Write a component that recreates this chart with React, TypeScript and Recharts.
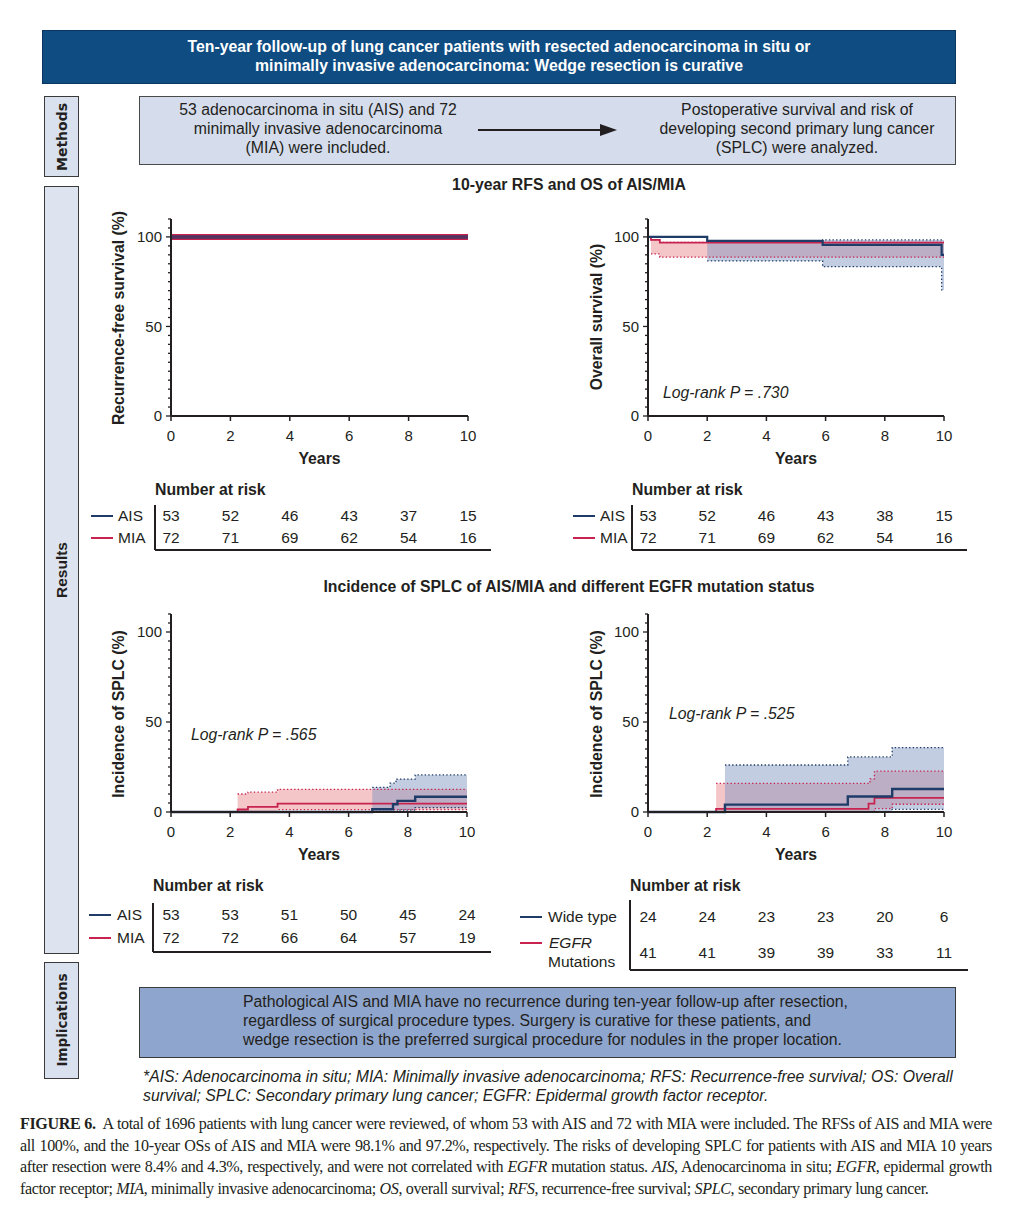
import React from "react";
import { ComposedChart, Line, Area, XAxis, YAxis } from "recharts";

type Step = [number, number][];

const NAVY = "#1f3b68";
const RED = "#c8234f";
const NAVY_FILL = "#7f96c2";
const RED_FILL = "#e8888c";
const INK = "#231f20";
const SANS = '"Liberation Sans", Arial, Helvetica, sans-serif';
const WIDE = '"DejaVu Sans", Verdana, sans-serif';
const SERIF = '"Liberation Serif", "Times New Roman", serif';

const YEAR_TICKS = [0, 2, 4, 6, 8, 10];
const Y_TICKS = [0, 5, 10, 15, 20, 25, 30, 35, 40, 45, 50, 55, 60, 65, 70, 75, 80, 85, 90, 95, 100, 105, 110];

// RFS (%), [year, value]
const rfsAis: Step = [[0, 100], [10, 100]];
const rfsMia: Step = [[0, 100], [10, 100]];

// OS (%)
const osAis: Step = [[0, 100], [2, 97.8], [5.9, 95.5], [9.92, 90.0], [10, 90.0]];
const osAisLow: Step = [[2, 86.6], [5.9, 83.4], [9.92, 70.4], [10, 70.4]];
const osAisHigh: Step = [[2, 97.9], [5.9, 98.3], [10, 98.3]];
const osMia: Step = [[0, 100], [0.1, 98.3], [0.4, 96.8], [10, 96.8]];
const osMiaLow: Step = [[0.1, 90.5], [0.4, 88.7], [10, 88.7]];
const osMiaHigh: Step = [[0.1, 98.4], [0.4, 96.9], [10, 96.9]];

// SPLC incidence, AIS vs MIA (%)
const splcAis: Step = [[0, 0], [6.8, 1.5], [7.5, 4.3], [7.65, 6.2], [8.25, 8.5], [10, 8.5]];
const splcAisLow: Step = [[6.8, 0], [7.65, 1.0], [8.25, 2.4], [10, 2.4]];
const splcAisHigh: Step = [[6.8, 13.7], [7.4, 16.0], [7.6, 18.3], [8.25, 20.6], [10, 20.6]];
const splcMia: Step = [[0, 0], [2.25, 1.4], [2.6, 2.9], [3.6, 4.6], [10, 4.6]];
const splcMiaLow: Step = [[2.25, 0], [3.6, 1.3], [10, 1.3]];
const splcMiaHigh: Step = [[2.25, 10.0], [2.6, 11.0], [3.6, 12.6], [10, 12.6]];

// SPLC incidence, wild type vs EGFR mutations (%)
const egfrWild: Step = [[0, 0], [2.6, 4.1], [6.75, 8.6], [8.25, 12.8], [10, 12.8]];
const egfrWildLow: Step = [[2.6, 0], [8.25, 1.5], [10, 1.5]];
const egfrWildHigh: Step = [[2.6, 26.1], [6.75, 30.6], [8.25, 35.8], [10, 35.8]];
const egfrMut: Step = [[0, 0], [2.3, 1.7], [7.45, 4.7], [7.65, 7.9], [10, 7.9]];
const egfrMutLow: Step = [[2.3, 0], [7.65, 1.9], [8.25, 4.3], [10, 4.3]];
const egfrMutHigh: Step = [[2.3, 15.9], [7.5, 18.4], [7.65, 22.7], [10, 22.7]];

// number at risk at years 0,2,4,6,8,10
const riskRfsAis = [53, 52, 46, 43, 37, 15];
const riskRfsMia = [72, 71, 69, 62, 54, 16];
const riskOsAis = [53, 52, 46, 43, 38, 15];
const riskOsMia = [72, 71, 69, 62, 54, 16];
const riskSplcAis = [53, 53, 51, 50, 45, 24];
const riskSplcMia = [72, 72, 66, 64, 57, 19];
const riskWild = [24, 24, 23, 23, 20, 6];
const riskMut = [41, 41, 39, 39, 33, 11];

function stepAt(s: Step, t: number): number | null {
  if (t < s[0][0]) return null;
  let v = s[0][1];
  for (const [x, y] of s) if (x <= t) v = y;
  return v;
}

function buildRows(series: Record<string, Step>) {
  const ts = [...new Set(Object.values(series).flatMap((s) => s.map((p) => p[0])))].sort((a, b) => a - b);
  return ts.map((t) => {
    const row: any = { t };
    for (const k in series) row[k] = stepAt(series[k], t);
    return row;
  });
}

interface Group {
  key: string;
  color: string;
  fill?: string;
  est: Step;
  low?: Step;
  high?: Step;
  width: number;
  opacity?: number;
}

function YTick(props: any) {
  const { y, payload, axisX } = props;
  const v = payload.value;
  const major = v === 0 || v === 50 || v === 100;
  return (
    <g>
      <line x1={axisX - (major ? 5 : 3)} x2={axisX} y1={y} y2={y} stroke={INK} strokeWidth={1.3} />
      {major && (
        <text x={axisX - 9} y={y} dy="0.36em" textAnchor="end" fontSize={15} fill={INK} fontFamily={SANS}>
          {v}
        </text>
      )}
    </g>
  );
}

function KMChart({ plotLeft, plotTop, plotW, plotH, groups }: { plotLeft: number; plotTop: number; plotW: number; plotH: number; groups: Group[] }) {
  const series: Record<string, Step> = {};
  groups.forEach((g) => {
    series[g.key] = g.est;
    if (g.low) series[g.key + "Low"] = g.low;
    if (g.high) series[g.key + "High"] = g.high;
  });
  const rows = buildRows(series);
  const ML = 11, YW = 60, MT = 14, MR = 22, XH = 48, MB = 12;
  const axisX = ML + YW;
  const banded = groups.filter((g) => g.low && g.high);
  return (
    <div style={{ position: "absolute", left: plotLeft - axisX, top: plotTop - MT }}>
      <ComposedChart
        width={axisX + plotW + MR}
        height={MT + plotH + XH + MB}
        data={rows}
        margin={{ top: MT, right: MR, left: ML, bottom: MB }}
        style={{ fontFamily: SANS }}
      >
        <XAxis
          dataKey="t"
          type="number"
          domain={[0, 10]}
          ticks={YEAR_TICKS}
          interval={0}
          height={XH}
          tickSize={5}
          tickMargin={9}
          stroke={INK}
          axisLine={{ stroke: INK, strokeWidth: 2 }}
          tickLine={{ stroke: INK, strokeWidth: 1.5 }}
          tick={{ fontSize: 15, fill: INK }}
          label={{ value: "Years", position: "insideBottom", offset: 0, fontSize: 15.8, fontWeight: 700, fill: INK }}
        />
        <YAxis
          type="number"
          domain={[0, 110]}
          ticks={Y_TICKS}
          interval={0}
          width={YW}
          axisLine={{ stroke: INK, strokeWidth: 2 }}
          tickLine={false}
          tick={<YTick axisX={axisX} />}
        />
        {banded.map((g) => (
          <Area
            key={g.key + "band"}
            type="stepAfter"
            dataKey={(r: any) => (r[g.key + "Low"] == null ? null : [r[g.key + "Low"], r[g.key + "High"]])}
            stroke="none"
            fill={g.fill}
            fillOpacity={0.48}
            dot={false}
            activeDot={false}
            isAnimationActive={false}
          />
        ))}
        {banded.flatMap((g) =>
          ["Low", "High"].map((s) => (
            <Line
              key={g.key + s}
              type="stepAfter"
              dataKey={g.key + s}
              stroke={g.color}
              strokeWidth={1.3}
              strokeDasharray="1.4 2.2"
              dot={false}
              activeDot={false}
              isAnimationActive={false}
            />
          ))
        )}
        {groups.map((g) => (
          <Line
            key={g.key}
            type="stepAfter"
            dataKey={g.key}
            stroke={g.color}
            strokeWidth={g.width}
            strokeOpacity={g.opacity ?? 1}
            dot={false}
            activeDot={false}
            isAnimationActive={false}
          />
        ))}
      </ComposedChart>
    </div>
  );
}

function Txt({ x, y, size = 15.8, bold, italic, anchor = "start", color = INK, family = SANS, children }: any) {
  const tx = anchor === "middle" ? "translateX(-50%)" : anchor === "end" ? "translateX(-100%)" : "none";
  return (
    <div
      style={{
        position: "absolute",
        left: x,
        top: y - 10,
        lineHeight: "20px",
        height: 20,
        fontSize: size,
        fontWeight: bold ? 700 : 400,
        fontStyle: italic ? "italic" : "normal",
        color,
        fontFamily: family,
        whiteSpace: "nowrap",
        transform: tx,
      }}
    >
      {children}
    </div>
  );
}

function VLabel({ x, y, children, size = 15.8, family = SANS, bold = true }: any) {
  return (
    <div
      style={{
        position: "absolute",
        left: x,
        top: y,
        transform: "translate(-50%, -50%) rotate(-90deg)",
        fontSize: size,
        fontWeight: bold ? 700 : 400,
        fontFamily: family,
        color: INK,
        whiteSpace: "nowrap",
        lineHeight: "18px",
      }}
    >
      {children}
    </div>
  );
}

function Box({ x, y, w, h, fill, border = "#3a3a3a", bw = 1.5 }: any) {
  return (
    <div
      style={{
        position: "absolute",
        left: x,
        top: y,
        width: w,
        height: h,
        background: fill,
        border: `${bw}px solid ${border}`,
        boxSizing: "border-box",
      }}
    />
  );
}

function HLine({ x, y, w, color = INK, t = 1.5 }: any) {
  return <div style={{ position: "absolute", left: x, top: y - t / 2, width: w, height: t, background: color }} />;
}

function VLine({ x, y, h, color = INK, t = 1.5 }: any) {
  return <div style={{ position: "absolute", left: x - t / 2, top: y, width: t, height: h, background: color }} />;
}

interface RiskRow {
  label: React.ReactNode;
  color: string;
  values: number[];
  y: number;
  lineY?: number;
  custom?: boolean;
}

function RiskTable({ titleX, titleY, lineX, labelX, rows, sepX, sepTop, ruleY, ruleRight, plotLeft, plotW }: any) {
  return (
    <>
      <Txt x={titleX} y={titleY} bold size={15.8}>Number at risk</Txt>
      {rows.map((r: RiskRow, i: number) => (
        <React.Fragment key={i}>
          <HLine x={lineX} y={r.lineY ?? r.y} w={22} color={r.color} t={2} />
          {r.custom ? r.label : <Txt x={labelX} y={r.y} size={15.5}>{r.label}</Txt>}
          {r.values.map((v, j) => (
            <Txt key={j} x={plotLeft + (j * plotW) / 5} y={r.y} size={15.5} anchor="middle">{v}</Txt>
          ))}
        </React.Fragment>
      ))}
      <VLine x={sepX} y={sepTop} h={ruleY - sepTop} />
      <HLine x={sepX} y={ruleY} w={ruleRight - sepX} />
    </>
  );
}

export default function App() {
  return (
    <div style={{ position: "absolute", left: 0, top: 0, width: 1012, height: 1216, background: "#fff", overflow: "hidden", fontFamily: SANS, color: INK }}>
      {/* title banner */}
      <Box x={42} y={30} w={914} h={54} fill="#0e4c82" border="#0a3560" bw={1} />
      <Txt x={499} y={47} bold size={15.8} anchor="middle" color="#fff">
        Ten-year follow-up of lung cancer patients with resected adenocarcinoma in situ or
      </Txt>
      <Txt x={499} y={66} bold size={15.8} anchor="middle" color="#fff">
        minimally invasive adenocarcinoma: Wedge resection is curative
      </Txt>

      {/* side tabs */}
      <Box x={44} y={96} w={35} h={81} fill="#d9e0ee" />
      <VLabel x={61.5} y={136.5} size={14} family={WIDE}>Methods</VLabel>
      <Box x={44} y={186} w={35} h={768} fill="#dde3ef" />
      <VLabel x={61.5} y={570} size={15.5}>Results</VLabel>
      <Box x={44} y={962} w={35} h={117} fill="#d9e0ee" />
      <VLabel x={61.5} y={1020} size={13.5} family={WIDE}>Implications</VLabel>

      {/* methods box */}
      <Box x={139} y={96} w={817} h={69} fill="#d5dcec" border="#4a4a4a" />
      <Txt x={318} y={110} anchor="middle">53 adenocarcinoma in situ (AIS) and 72</Txt>
      <Txt x={318} y={129} anchor="middle">minimally invasive adenocarcinoma</Txt>
      <Txt x={318} y={148} anchor="middle">(MIA) were included.</Txt>
      <HLine x={478} y={130} w={130} t={2} />
      <svg style={{ position: "absolute", left: 600, top: 124 }} width={18} height={12}>
        <polygon points="0,0 17,6 0,12" fill={INK} />
      </svg>
      <Txt x={797} y={110} anchor="middle">Postoperative survival and risk of</Txt>
      <Txt x={797} y={129} anchor="middle">developing second primary lung cancer</Txt>
      <Txt x={797} y={148} anchor="middle">(SPLC) were analyzed.</Txt>

      {/* results: RFS / OS */}
      <Txt x={569} y={185} bold anchor="middle">10-year RFS and OS of AIS/MIA</Txt>
      <KMChart
        plotLeft={171}
        plotTop={219}
        plotW={297}
        plotH={197}
        groups={[
          { key: "mia", color: RED, est: rfsMia, width: 6 },
          { key: "ais", color: NAVY, est: rfsAis, width: 3.5, opacity: 0.72 },
        ]}
      />
      <VLabel x={119} y={318}>Recurrence-free survival (%)</VLabel>
      <KMChart
        plotLeft={648}
        plotTop={219}
        plotW={296}
        plotH={197}
        groups={[
          { key: "mia", color: RED, fill: RED_FILL, est: osMia, low: osMiaLow, high: osMiaHigh, width: 1.8 },
          { key: "ais", color: NAVY, fill: NAVY_FILL, est: osAis, low: osAisLow, high: osAisHigh, width: 2.2 },
        ]}
      />
      <VLabel x={597} y={317}>Overall survival (%)</VLabel>
      <Txt x={663} y={393} italic>Log-rank P = .730</Txt>

      <RiskTable
        titleX={155} titleY={490} lineX={91} labelX={118}
        sepX={155} sepTop={505} ruleY={550} ruleRight={491} plotLeft={171} plotW={297}
        rows={[
          { label: "AIS", color: NAVY, values: riskRfsAis, y: 516 },
          { label: "MIA", color: RED, values: riskRfsMia, y: 538 },
        ]}
      />
      <RiskTable
        titleX={632} titleY={490} lineX={573} labelX={600}
        sepX={632} sepTop={505} ruleY={550} ruleRight={967} plotLeft={648} plotW={296}
        rows={[
          { label: "AIS", color: NAVY, values: riskOsAis, y: 516 },
          { label: "MIA", color: RED, values: riskOsMia, y: 538 },
        ]}
      />

      {/* results: SPLC */}
      <Txt x={569} y={587} bold anchor="middle">Incidence of SPLC of AIS/MIA and different EGFR mutation status</Txt>
      <KMChart
        plotLeft={171}
        plotTop={614}
        plotW={296}
        plotH={198}
        groups={[
          { key: "mia", color: RED, fill: RED_FILL, est: splcMia, low: splcMiaLow, high: splcMiaHigh, width: 1.8 },
          { key: "ais", color: NAVY, fill: NAVY_FILL, est: splcAis, low: splcAisLow, high: splcAisHigh, width: 2.4 },
        ]}
      />
      <VLabel x={119} y={714}>Incidence of SPLC (%)</VLabel>
      <Txt x={191} y={735} italic>Log-rank P = .565</Txt>
      <KMChart
        plotLeft={648}
        plotTop={614}
        plotW={296}
        plotH={198}
        groups={[
          { key: "mut", color: RED, fill: RED_FILL, est: egfrMut, low: egfrMutLow, high: egfrMutHigh, width: 1.8 },
          { key: "wild", color: NAVY, fill: NAVY_FILL, est: egfrWild, low: egfrWildLow, high: egfrWildHigh, width: 2.4 },
        ]}
      />
      <VLabel x={597} y={714}>Incidence of SPLC (%)</VLabel>
      <Txt x={669} y={714} italic>Log-rank P = .525</Txt>

      <RiskTable
        titleX={153} titleY={886} lineX={89} labelX={117}
        sepX={153} sepTop={903} ruleY={952} ruleRight={491} plotLeft={171} plotW={296}
        rows={[
          { label: "AIS", color: NAVY, values: riskSplcAis, y: 915 },
          { label: "MIA", color: RED, values: riskSplcMia, y: 938 },
        ]}
      />
      <RiskTable
        titleX={630} titleY={886} lineX={520} labelX={548}
        sepX={630} sepTop={900} ruleY={970} ruleRight={968} plotLeft={648} plotW={296}
        rows={[
          { label: "Wide type", color: NAVY, values: riskWild, y: 917 },
          {
            label: (
              <>
                <Txt x={549} y={943} size={15.5} italic>EGFR</Txt>
                <Txt x={548} y={962} size={15.5}>Mutations</Txt>
              </>
            ),
            custom: true,
            lineY: 943,
            color: RED,
            values: riskMut,
            y: 953,
          },
        ]}
      />

      {/* implications */}
      <Box x={139} y={987} w={817} h={71} fill="#8ea5cd" border="#3a3a3a" />
      <Txt x={243} y={1002}>Pathological AIS and MIA have no recurrence during ten-year follow-up after resection,</Txt>
      <Txt x={243} y={1021}>regardless of surgical procedure types. Surgery is curative for these patients, and</Txt>
      <Txt x={243} y={1040}>wedge resection is the preferred surgical procedure for nodules in the proper location.</Txt>

      <Txt x={143} y={1077} italic>*AIS: Adenocarcinoma in situ; MIA: Minimally invasive adenocarcinoma; RFS: Recurrence-free survival; OS: Overall</Txt>
      <Txt x={143} y={1096} italic>survival; SPLC: Secondary primary lung cancer; EGFR: Epidermal growth factor receptor.</Txt>

      {/* caption */}
      <div style={{ position: "absolute", left: 20, top: 1113, width: 972, fontFamily: SERIF, fontSize: 16.1, letterSpacing: "-0.38px", lineHeight: "21.7px", color: INK }}>
        <div style={{ textAlign: "justify", textAlignLast: "justify", whiteSpace: "nowrap" }}>
          <b>FIGURE 6.</b>&nbsp; A total of 1696 patients with lung cancer were reviewed, of whom 53 with AIS and 72 with MIA were included. The RFSs of AIS and MIA were
        </div>
        <div style={{ textAlign: "justify", textAlignLast: "justify", whiteSpace: "nowrap" }}>
          all 100%, and the 10-year OSs of AIS and MIA were 98.1% and 97.2%, respectively. The risks of developing SPLC for patients with AIS and MIA 10 years
        </div>
        <div style={{ textAlign: "justify", textAlignLast: "justify", whiteSpace: "nowrap" }}>
          after resection were 8.4% and 4.3%, respectively, and were not correlated with <i>EGFR</i> mutation status. <i>AIS</i>, Adenocarcinoma in situ; <i>EGFR</i>, epidermal growth
        </div>
        <div style={{ whiteSpace: "nowrap" }}>
          factor receptor; <i>MIA</i>, minimally invasive adenocarcinoma; <i>OS</i>, overall survival; <i>RFS</i>, recurrence-free survival; <i>SPLC</i>, secondary primary lung cancer.
        </div>
      </div>
    </div>
  );
}
